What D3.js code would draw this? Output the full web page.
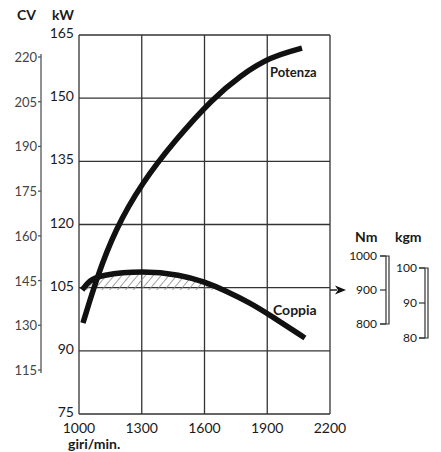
<!DOCTYPE html>
<html>
<head>
<meta charset="utf-8">
<script src="https://cdn.jsdelivr.net/npm/d3@7"></script>
<style>
  body { margin: 0; background: #fff; }
  text { font-family: Lato, "Open Sans", sans-serif; fill: #1a1a1a; }
  .grid { stroke: #333; stroke-width: 1.3; }
</style>
</head>
<body>
<svg id="chart" width="441" height="452"></svg>
<script>
// valori
const rpmTicks = [1000, 1300, 1600, 1900, 2200];
const kwTicks = [75, 90, 105, 120, 135, 150, 165];
const cvTicks = [115, 130, 145, 160, 175, 190, 205, 220];
const nmTicks = [800, 900, 1000];
const kgmTicks = [80, 90, 100];

// Potenza (kW)
const potenzaRpm = [1019, 1086, 1172, 1301, 1459, 1641, 1770, 1913, 2066];
const potenzaKw  = [96.6, 107.5, 118.7, 129.9, 140.0, 150.0, 155.3, 159.8, 161.9];
// Coppia (Nm)
const coppiaRpm = [1015, 1050, 1100, 1306, 1483, 1602, 1700, 1818, 1913, 2080];
const coppiaNm  = [900, 928, 944, 957, 945, 924, 898, 862, 826, 759];

const svg = d3.select('#chart');

const x = d3.scaleLinear().domain([1000, 2200]).range([79, 330]);
const yKw = d3.scaleLinear().domain([75, 165]).range([414, 35]);
const yCv = d3.scaleLinear().domain([115, 220]).range([370, 57]);
const yNm = d3.scaleLinear().domain([800, 1000]).range([324, 256]);
const yKgm = d3.scaleLinear().domain([80, 100]).range([338, 268]);

// pattern tratteggio
const defs = svg.append('defs');
const pat = defs.append('pattern')
    .attr('id', 'hatch')
    .attr('width', 6).attr('height', 6)
    .attr('patternUnits', 'userSpaceOnUse')
    .attr('patternTransform', 'rotate(40)');
pat.append('line')
    .attr('x1', 0).attr('y1', 0).attr('x2', 0).attr('y2', 6)
    .attr('stroke', '#8a8a8a').attr('stroke-width', 1.6);

defs.append('clipPath').attr('id', 'above900')
    .append('rect')
    .attr('x', x(1000)).attr('y', 0)
    .attr('width', x(2200) - x(1000))
    .attr('height', yNm(900));

// griglia
const g = svg.append('g');
g.selectAll('.vgrid')
    .data(rpmTicks)
    .enter().append('line')
    .attr('class', 'grid')
    .attr('x1', d => x(d)).attr('x2', d => x(d))
    .attr('y1', yKw(165)).attr('y2', yKw(75));

g.selectAll('.hgrid')
    .data(kwTicks)
    .enter().append('line')
    .attr('class', 'grid')
    .attr('x1', x(1000)).attr('x2', x(2200))
    .attr('y1', d => yKw(d)).attr('y2', d => yKw(d));

// freccia sulla linea 105 / 900
const arrowY = yNm(900);
g.append('line')
    .attr('x1', x(2200)).attr('x2', 337)
    .attr('y1', arrowY).attr('y2', arrowY)
    .attr('stroke', '#222').attr('stroke-width', 1.5);
g.append('path')
    .attr('d', `M346,${arrowY} L335,${arrowY - 4.5} L338,${arrowY} L335,${arrowY + 4.5} Z`)
    .attr('fill', '#111');

// etichette asse x
g.selectAll('.xlab')
    .data(rpmTicks)
    .enter().append('text')
    .attr('x', d => x(d))
    .attr('y', 433)
    .attr('text-anchor', 'middle')
    .style('font-size', '14px')
    .text(d => d);

g.append('text')
    .attr('x', 68).attr('y', 449)
    .style('font-size', '14px')
    .style('font-weight', '700')
    .text('giri/min.');

// asse kW
g.selectAll('.kwlab')
    .data(kwTicks)
    .enter().append('text')
    .attr('x', 74)
    .attr('y', d => yKw(d) + 3)
    .attr('text-anchor', 'end')
    .style('font-size', '14px')
    .text(d => d);

// asse CV
g.append('line')
    .attr('x1', 41).attr('x2', 41)
    .attr('y1', yCv(220) - 3).attr('y2', yCv(115) + 3)
    .attr('stroke', '#555').attr('stroke-width', 1.3);
g.selectAll('.cvtick')
    .data(cvTicks)
    .enter().append('line')
    .attr('x1', 38).attr('x2', 41)
    .attr('y1', d => yCv(d)).attr('y2', d => yCv(d))
    .attr('stroke', '#555').attr('stroke-width', 1.3);
g.selectAll('.cvlab')
    .data(cvTicks)
    .enter().append('text')
    .attr('x', 37)
    .attr('y', d => yCv(d) + 5)
    .attr('text-anchor', 'end')
    .style('font-size', '13px')
    .style('fill', '#444')
    .text(d => d);

g.append('text').attr('x', 17).attr('y', 20)
    .style('font-size', '14px').style('font-weight', '700').text('CV');
g.append('text').attr('x', 52).attr('y', 20)
    .style('font-size', '14px').style('font-weight', '700').text('kW');

// asse Nm
const nmX = 386;
g.append('path')
    .attr('d', `M${nmX - 6},${yNm(1000)} H${nmX + 3} V${yNm(800)} H${nmX - 6} M${nmX},${yNm(1000)} V${yNm(800)}`)
    .attr('fill', 'none').attr('stroke', '#333').attr('stroke-width', 1.2);
g.selectAll('.nmtick')
    .data(nmTicks)
    .enter().append('line')
    .attr('x1', nmX - 6).attr('x2', nmX)
    .attr('y1', d => yNm(d)).attr('y2', d => yNm(d))
    .attr('stroke', '#333').attr('stroke-width', 1.2);
g.selectAll('.nmlab')
    .data(nmTicks)
    .enter().append('text')
    .attr('x', 377)
    .attr('y', d => yNm(d) + 4)
    .attr('text-anchor', 'end')
    .style('font-size', '12px')
    .text(d => d);
g.append('text').attr('x', 355).attr('y', 242)
    .style('font-size', '14px').style('font-weight', '700').text('Nm');

// asse kgm
const kgmX = 425;
g.append('path')
    .attr('d', `M${kgmX - 6},${yKgm(100)} H${kgmX + 3} V${yKgm(80)} H${kgmX - 6} M${kgmX},${yKgm(100)} V${yKgm(80)}`)
    .attr('fill', 'none').attr('stroke', '#333').attr('stroke-width', 1.2);
g.selectAll('.kgmtick')
    .data(kgmTicks)
    .enter().append('line')
    .attr('x1', kgmX - 6).attr('x2', kgmX)
    .attr('y1', d => yKgm(d)).attr('y2', d => yKgm(d))
    .attr('stroke', '#333').attr('stroke-width', 1.2);
g.selectAll('.kgmlab')
    .data(kgmTicks)
    .enter().append('text')
    .attr('x', 417)
    .attr('y', d => yKgm(d) + 4)
    .attr('text-anchor', 'end')
    .style('font-size', '12px')
    .text(d => d);
g.append('text').attr('x', 395).attr('y', 242)
    .style('font-size', '14px').style('font-weight', '700').text('kgm');

// area tratteggiata tra coppia e 900 Nm
const coppia = coppiaRpm.map((r, i) => ({ rpm: r, v: coppiaNm[i] }));
const potenza = potenzaRpm.map((r, i) => ({ rpm: r, v: potenzaKw[i] }));
const smooth = d3.curveBasis;

g.append('path')
    .datum(coppia)
    .attr('clip-path', 'url(#above900)')
    .attr('fill', 'url(#hatch)')
    .attr('d', d3.area()
        .x(d => x(d.rpm))
        .y0(yNm(900))
        .y1(d => yNm(d.v))
        .curve(smooth));

// curve
g.append('path')
    .datum(coppia)
    .attr('fill', 'none')
    .attr('stroke', '#111')
    .attr('stroke-width', 5.5)
    .attr('d', d3.line()
        .x(d => x(d.rpm))
        .y(d => yNm(d.v))
        .curve(smooth));

g.append('path')
    .datum(potenza)
    .attr('fill', 'none')
    .attr('stroke', '#111')
    .attr('stroke-width', 5.5)
    .attr('d', d3.line()
        .x(d => x(d.rpm))
        .y(d => yKw(d.v))
        .curve(smooth));

// etichette serie
g.append('text').attr('x', 270).attr('y', 77)
    .style('font-size', '13px').style('font-weight', '700').text('Potenza');
g.append('text').attr('x', 273).attr('y', 315)
    .style('font-size', '14px').style('font-weight', '700').text('Coppia');
</script>
</body>
</html>
